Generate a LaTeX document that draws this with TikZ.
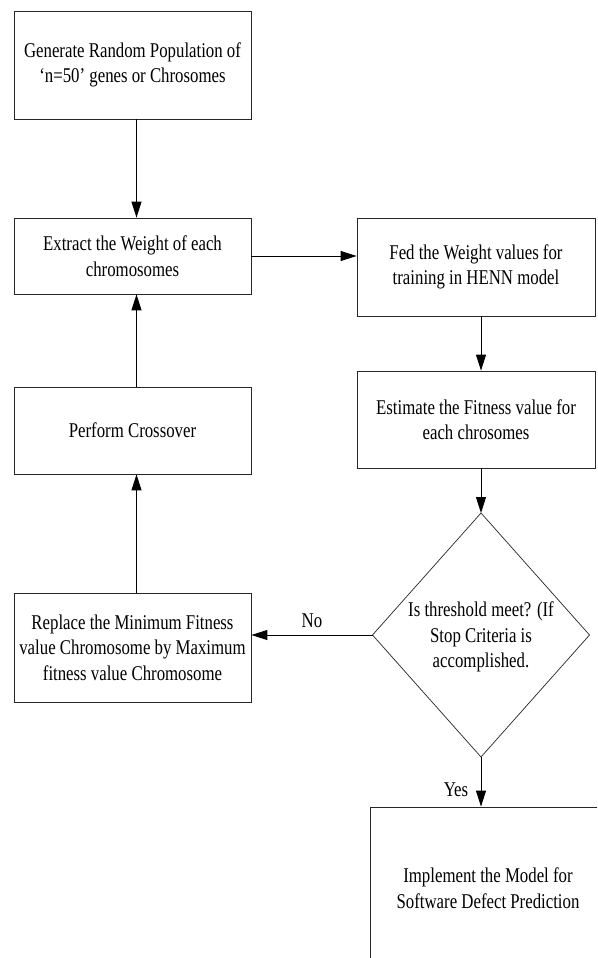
\documentclass[tikz,border=0pt]{standalone}
\usepackage{fontspec}
\setmainfont{Liberation Serif}[FakeStretch=0.8]
\usetikzlibrary{arrows.meta,shapes.geometric}
\tikzset{
  box/.style={draw=black!85, line width=0.8pt, rectangle, align=center, inner sep=0pt,
    font=\fontsize{21}{25.5}\selectfont},
  lbl/.style={font=\fontsize{21}{25.5}\selectfont, inner sep=0pt},
  arr/.style={draw=black, line width=0.9pt, -{Triangle[length=16pt,width=10pt]}}
}
\begin{document}
\begin{tikzpicture}[x=1pt,y=-1pt]
\useasboundingbox (0,0) rectangle (597,958);
\clip (0,0) rectangle (597,958);
\fill[white] (0,0) rectangle (597,958);
\node[box, minimum width=237pt, minimum height=108pt] (gen) at (132.5,65) {Generate Random Population of\\‘n=50’ genes or Chrosomes};
\node[box, minimum width=237pt, minimum height=76pt] (ext) at (132.5,256) {Extract the Weight of each\\chromosomes};
\node[box, minimum width=238pt, minimum height=98pt] (fed) at (476,267) {Fed the Weight values for\\training in HENN model};
\node[box, minimum width=238pt, minimum height=97pt] (est) at (476,419.5) {Estimate the Fitness value for\\each chrosomes};
\node[box, minimum width=237pt, minimum height=87pt] (cross) at (132.5,430.5) {Perform Crossover};
\node[box, minimum width=237pt, minimum height=109pt] (repl) at (132.5,647.5) {Replace the Minimum Fitness\\value Chromosome by Maximum\\fitness value Chromosome};
\draw[draw=black!85, line width=0.7pt] (481,513) -- (589.5,635) -- (481,757) -- (372.5,635) -- cycle;
\node[lbl, align=center] (decT) at (481,637) {Is threshold meet? (If\\Stop Criteria is\\accomplished.};
\coordinate (dtop) at (481,513);
\coordinate (dleft) at (372.5,635);
\coordinate (dbot) at (481,757);
\node[box, minimum width=236pt, minimum height=162pt] (impl) at (488,888) {Implement the Model for\\Software Defect Prediction};
\draw[arr] ([xshift=4pt]gen.south) -- ([xshift=4pt]ext.north);
\draw[arr] (ext.east) -- (ext.east -| fed.west);
\draw[arr] ([xshift=5pt]fed.south) -- ([xshift=5pt]est.north);
\draw[arr] ([xshift=5pt]est.south) -- (dtop);
\draw[arr] (dleft) -- (dleft -| repl.east);
\draw[arr] ([xshift=4pt]repl.north) -- ([xshift=4pt]cross.south);
\draw[arr] ([xshift=4pt]cross.north) -- ([xshift=4pt]ext.south);
\draw[arr] (dbot) -- (dbot |- impl.north);
\node[lbl] (no) at (312,621) {No};
\node[lbl] (yes) at (456,790) {Yes};
\end{tikzpicture}
\end{document}
